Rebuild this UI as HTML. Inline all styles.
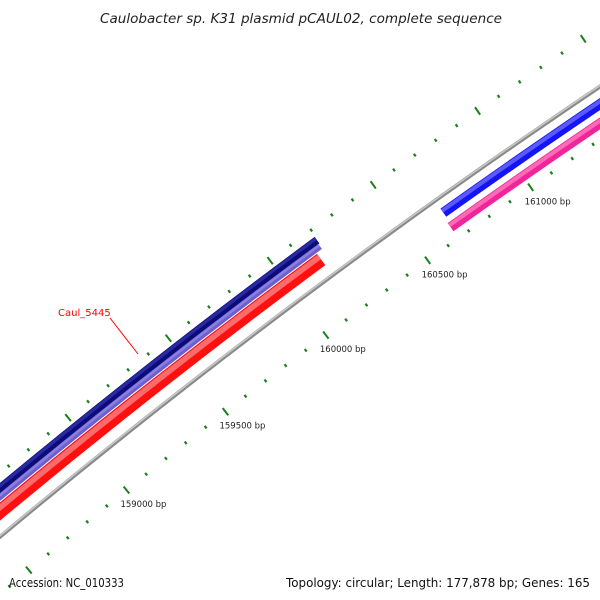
<!DOCTYPE html>
<html><head><meta charset="utf-8"><style>
html,body{margin:0;background:#fff;width:600px;height:600px;overflow:hidden}
svg{display:block;overflow:hidden}
text{font-family:"DejaVu Sans","Liberation Sans",sans-serif}
</style></head><body>
<svg id="map" width="600" height="600" viewBox="0 0 600 600" xmlns="http://www.w3.org/2000/svg">
<rect width="600" height="600" fill="#fff"/>
<g id="plot"></g>
<text x="100" y="23" font-size="13.5" font-style="italic" fill="#222" textLength="402" lengthAdjust="spacingAndGlyphs">Caulobacter sp. K31 plasmid pCAUL02, complete sequence</text>
<text x="9" y="587" font-size="12" fill="#111" textLength="115" lengthAdjust="spacingAndGlyphs">Accession: NC_010333</text>
<text x="286" y="587" font-size="12" fill="#111" textLength="304" lengthAdjust="spacingAndGlyphs">Topology: circular; Length: 177,878 bp; Genes: 165</text>
</svg>
<script>
// ---- data ----
const featureNames  = ["gene-navy","gene-purple","gene-red","backbone","gene-blue","gene-pink"];
const featureStarts = [158000, 158000, 158000, 150000, 160660, 160650];
const featureEnds   = [160195, 160190, 160163, 170000, 163000, 163000];
const featureRadii  = [7231.5, 7224.5, 7213.5, 7194, 7179.5, 7163.5];
const featureWidths = [8, 6, 14, 4, 10, 10];
const featureColors = ["#0b0b7a","#6e5fcf","#ff1010","#8a8a8a","#1414f5","#f0259a"];
const featureLight  = ["#2a2aa0","#8a80e0","#ff6a6a","#c8c8c8","#5a5aff","#ff6ab8"];
const tickStart = 158000, tickEnd = 162600, tickStep = 100, majorStep = 500;
const tickLabels = ["159000 bp","159500 bp","160000 bp","160500 bp","161000 bp"];
const tickLabelBp = [159000,159500,160000,160500,161000];
const seqLength = 177878;

// ---- geometry ----
const CX = 4612, CY = 6058;
const theta0 = Math.atan2(-0.7788,-0.6274);
const k = 2*Math.PI/seqLength;
function ang(bp){return theta0 + (bp-159000)*k;}
function pos(bp,r){const a=ang(bp);return [CX+r*Math.cos(a), CY+r*Math.sin(a)];}
function arc(b0,b1,r){const p0=pos(b0,r),p1=pos(b1,r);
  return "M"+p0[0].toFixed(2)+","+p0[1].toFixed(2)+" A"+r+","+r+" 0 0 1 "+p1[0].toFixed(2)+","+p1[1].toFixed(2);}
const NS="http://www.w3.org/2000/svg";
const plot=document.getElementById("plot");
function mk(tag,attrs){const e=document.createElementNS(NS,tag);for(const a in attrs)e.setAttribute(a,attrs[a]);plot.appendChild(e);return e;}

// features
for(let i=0;i<featureNames.length;i++){
  const r=featureRadii[i],w=featureWidths[i];
  const p=mk("path",{d:arc(featureStarts[i],featureEnds[i],r),fill:"none",stroke:featureColors[i],"stroke-width":w});
  
  
  const h=mk("path",{d:arc(featureStarts[i],featureEnds[i],r+w*0.22),fill:"none",stroke:featureLight[i],"stroke-width":w*0.4});
  
  
}

// ticks (inner and outer rows)
const rows=[7150,7243];
for(const R of rows){
  for(let bp=tickStart;bp<=tickEnd;bp+=tickStep){
    const major=(bp%majorStep===0);
    const hl=major?4.5:1.6;
    const a=pos(bp,R-hl),b=pos(bp,R+hl);
    if(Math.max(a[1],b[1])>598||Math.min(a[0],b[0])<0) continue;
    const t=mk("line",{x1:a[0],y1:a[1],x2:b[0],y2:b[1],stroke:"#1a801a","stroke-width":major?2:2.2});
    
    
  }
}
for(let i=0;i<tickLabels.length;i++){
  const p=pos(tickLabelBp[i],7150);
  const t=mk("text",{x:p[0]-6,y:p[1]+17,"font-size":"8.5",fill:"#222"});
  t.textContent=tickLabels[i];
  
  
}

// gene label
const ln=mk("line",{x1:110,y1:318,x2:138,y2:354,stroke:"#ff0000","stroke-width":1});


const gl=mk("text",{x:58,y:316,"font-size":"10",fill:"#ff0000"});
gl.textContent="Caul_5445";


</script>
</body></html>
